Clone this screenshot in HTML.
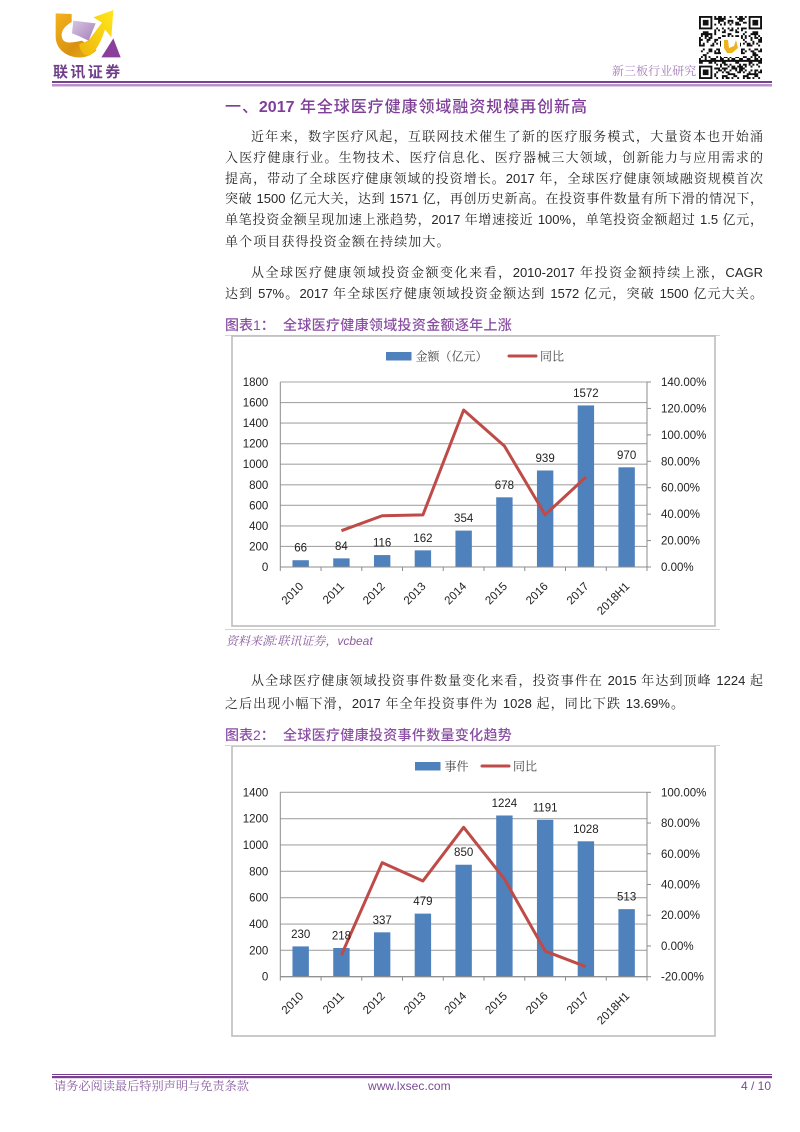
<!DOCTYPE html>
<html lang="zh-CN">
<head>
<meta charset="utf-8">
<title>全球医疗健康领域融资规模</title>
<style>
html,body{margin:0;padding:0;background:#fff;}
#page{position:relative;width:800px;height:1132px;overflow:hidden;background:#fff;font-family:"Liberation Sans","Noto Serif CJK SC",serif;color:#222;}
.ln{position:absolute;left:225px;width:538px;height:20px;line-height:20px;font-size:13px;text-align:justify;text-align-last:justify;color:#262626;}
.ind{left:251px;width:512px;}
.plain{text-align:left;text-align-last:left;letter-spacing:1.1px;}
.h1{position:absolute;left:225px;top:97px;width:362px;height:22px;line-height:22px;font-family:"Liberation Sans","Noto Sans CJK SC",sans-serif;font-weight:500;font-size:16px;color:#7f3f98;text-align:justify;text-align-last:justify;}
.h1 b{font-weight:700;}
.ft{position:absolute;height:18px;line-height:18px;font-family:"Liberation Sans","Noto Sans CJK SC",sans-serif;font-weight:500;font-size:14px;color:#8a4ea3;white-space:nowrap;}
.rule{position:absolute;left:225px;width:495px;height:1px;background:#d4d4d4;}
svg{position:absolute;left:0;top:0;}
svg text{font-family:"Liberation Sans","Noto Sans CJK SC",sans-serif;fill:#222;}
</style>
</head>
<body>
<div id="page">

<svg width="800" height="100">
  <defs>
    <linearGradient id="og" x1="0" y1="0" x2="1" y2="1"><stop offset="0" stop-color="#f6b21e"/><stop offset=".6" stop-color="#d9920f"/><stop offset="1" stop-color="#e8b21a"/></linearGradient>
    <linearGradient id="yg" x1="1" y1="0" x2="0" y2="1"><stop offset="0" stop-color="#ffe81a"/><stop offset="1" stop-color="#efb50c"/></linearGradient>
    <linearGradient id="pg" x1="0" y1="0" x2="1" y2="1"><stop offset="0" stop-color="#d8c6e2"/><stop offset="1" stop-color="#a57fb8"/></linearGradient>
  </defs>
  <g transform="translate(40,0) scale(.3333)">
    <path d="M47 40 L95 42 L95 66 C68 82 60 100 68 118 C76 132 100 128 125 122 L170 150 C150 170 130 174 110 172 C70 168 47 140 47 110 Z" fill="url(#og)"/>
    <path d="M220 30 L214 112 L195 88 C185 120 172 148 150 166 C130 170 118 150 118 132 C135 128 145 122 150 116 L186 68 L160 52 Z" fill="url(#yg)"/>
    <path d="M100 62 L167 70 L146 122 C125 112 108 104 96 100 Z" fill="url(#pg)"/>
    <path d="M220 115 L242 172 L184 172 Z" fill="#8a3f9c"/>
  </g>
  <text x="53" y="77" font-size="15" font-weight="700" letter-spacing="2.4" style="fill:#6f3f8a">联讯证券</text>
  <text x="612" y="75" font-size="12" letter-spacing=".05" style="fill:#a57bbb;font-family:'Noto Serif CJK SC',serif">新三板行业研究</text>
  <g id="qr"></g>
  <rect x="52" y="81" width="720" height="2" fill="#7a3f8f"/>
  <rect x="52" y="84" width="720" height="2.5" fill="#b892cb"/>
</svg>

<div class="h1">一、<b>2017</b> 年全球医疗健康领域融资规模再创新高</div>

<div class="ln ind" style="top:127px">近年来，数字医疗风起，互联网技术催生了新的医疗服务模式，大量资本也开始涌</div>
<div class="ln" style="top:148px">入医疗健康行业。生物技术、医疗信息化、医疗器械三大领域，创新能力与应用需求的</div>
<div class="ln" style="top:169px">提高，带动了全球医疗健康领域的投资增长。2017 年，全球医疗健康领域融资规模首次</div>
<div class="ln" style="top:189px">突破 1500 亿元大关，达到 1571 亿，再创历史新高。在投资事件数量有所下滑的情况下，</div>
<div class="ln" style="top:210px">单笔投资金额呈现加速上涨趋势，2017 年增速接近 100%，单笔投资金额超过 1.5 亿元，</div>
<div class="ln plain" style="top:232px">单个项目获得投资金额在持续加大。</div>
<div class="ln ind" style="top:263px">从全球医疗健康领域投资金额变化来看，2010-2017 年投资金额持续上涨，CAGR</div>
<div class="ln" style="top:284px">达到 57%。2017 年全球医疗健康领域投资金额达到 1572 亿元，突破 1500 亿元大关。</div>

<div class="ft" style="left:225px;top:316px">图表1：</div>
<div class="ft" style="left:283px;top:316px;letter-spacing:.32px">全球医疗健康领域投资金额逐年上涨</div>
<div class="rule" style="top:335px"></div>

<svg id="chart1" width="800" height="1132"></svg>
<svg id="chart2" width="800" height="1132"></svg>

<div class="rule" style="top:629px"></div>
<div style="position:absolute;left:226px;top:632px;height:18px;line-height:18px;font-size:12px;font-style:italic;color:#8a5ca0;white-space:nowrap">资料来源:联讯证券，vcbeat</div>

<div class="ln ind" style="top:671px">从全球医疗健康领域投资事件数量变化来看，投资事件在 2015 年达到顶峰 1224 起</div>
<div class="ln" style="top:694px;width:459px">之后出现小幅下滑，2017 年全年投资事件为 1028 起，同比下跌 13.69%。</div>

<div class="ft" style="left:225px;top:726px">图表2：</div>
<div class="ft" style="left:283px;top:726px;letter-spacing:.32px">全球医疗健康投资事件数量变化趋势</div>
<div class="rule" style="top:745px"></div>

<svg width="800" height="1132">
  <rect x="52" y="1074" width="720" height="1" fill="#7a3f8f"/>
  <rect x="52" y="1076" width="720" height="2.2" fill="#7a3f8f"/>
  <text x="54" y="1090" font-size="12.2" style="fill:#8a5ca0;font-family:'Noto Serif CJK SC',serif">请务必阅读最后特别声明与免责条款</text>
  <text x="368" y="1090" font-size="12" letter-spacing=".05" style="fill:#7a4a96">www.lxsec.com</text>
  <text x="771" y="1090" font-size="12" text-anchor="end" style="fill:#7a4a96">4 / 10</text>
</svg>
</div>

<script>
// Chart 1 data
const categories1 = ['2010','2011','2012','2013','2014','2015','2016','2017','2018H1'];
const amountValues = [66,84,116,162,354,678,939,1572,970];
const amountGrowth = [null,27.5,38.8,39.4,118.8,91.6,39.5,68,null];
const amountLeftTicks = [0,200,400,600,800,1000,1200,1400,1600,1800];
const amountRightTicks = [0,20,40,60,80,100,120,140];

// Chart 2 data
const categories2 = ['2010','2011','2012','2013','2014','2015','2016','2017','2018H1'];
const eventValues = [230,218,337,479,850,1224,1191,1028,513];
const eventGrowth = [null,-5.9,54.2,42.3,77.2,43.6,-3.3,-13.5,null];
const eventLeftTicks = [0,200,400,600,800,1000,1200,1400];
const eventRightTicks = [-20,0,20,40,60,80,100];

const NS = 'http://www.w3.org/2000/svg';
function mk(parent, tag, attrs, txt) {
  const el = document.createElementNS(NS, tag);
  for (const k in attrs) el.setAttribute(k, attrs[k]);
  if (txt !== undefined) el.textContent = txt;
  parent.appendChild(el);
  return el;
}

function drawChart(svg, cfg) {
  const g = cfg.geom;
  const leftMin = cfg.leftTicks[0], leftMax = cfg.leftTicks[cfg.leftTicks.length - 1];
  const rightMin = cfg.rightTicks[0], rightMax = cfg.rightTicks[cfg.rightTicks.length - 1];
  const yLeft = v => g.bottom - (v - leftMin) / (leftMax - leftMin) * (g.bottom - g.top);
  const yRight = v => g.bottom - (v - rightMin) / (rightMax - rightMin) * (g.bottom - g.top);
  const step = (g.right - g.left) / cfg.categories.length;
  const xCenter = i => g.left + step * (i + .5);
  let el;

  el = mk(svg, 'rect', {x:g.fx, y:g.fy, width:g.fw, height:g.fh, fill:'#fff', stroke:'#bdbdbd', 'stroke-width':1.6});
  
  

  cfg.leftTicks.forEach(t => {
    const y = yLeft(t);
    el = mk(svg, 'line', {x1:g.left, x2:g.right, y1:y, y2:y, stroke:'#a6a6a6', 'stroke-width':1.1});
    
    
    el = mk(svg, 'text', {x:g.left - 12, y:y + 4, 'font-size':11.5, 'text-anchor':'end'}, String(t));
    
    
  });

  cfg.rightTicks.forEach(t => {
    const y = yRight(t);
    el = mk(svg, 'line', {x1:g.right, x2:g.right + 4, y1:y, y2:y, stroke:'#8c8c8c', 'stroke-width':1});
    
    
    el = mk(svg, 'text', {x:g.right + 14, y:y + 4, 'font-size':11.5}, t.toFixed(2) + '%');
    
    
  });

  el = mk(svg, 'line', {x1:g.left, x2:g.left, y1:g.top, y2:g.bottom, stroke:'#8c8c8c', 'stroke-width':1});
  
  
  el = mk(svg, 'line', {x1:g.right, x2:g.right, y1:g.top, y2:g.bottom, stroke:'#8c8c8c', 'stroke-width':1});
  
  

  cfg.values.forEach((v, i) => {
    const y = yLeft(v);
    el = mk(svg, 'rect', {x:xCenter(i) - 8.2, y:y, width:16.4, height:g.bottom - y, fill:'#4f81bd'});
    
    
  });

  el = mk(svg, 'line', {x1:g.left, x2:g.right, y1:g.bottom, y2:g.bottom, stroke:'#8c8c8c', 'stroke-width':1.1});
  
  

  for (let i = 0; i <= cfg.categories.length; i++) {
    const x = g.left + step * i;
    el = mk(svg, 'line', {x1:x, x2:x, y1:g.bottom, y2:g.bottom + 4, stroke:'#8c8c8c', 'stroke-width':1});
    
    
  }

  const pts = [];
  cfg.growth.forEach((v, i) => { if (v !== null) pts.push(xCenter(i) + ',' + yRight(v)); });
  el = mk(svg, 'polyline', {points:pts.join(' '), fill:'none', stroke:'#be4b48', 'stroke-width':3, 'stroke-linejoin':'round'});
  
  

  cfg.values.forEach((v, i) => {
    el = mk(svg, 'text', {x:xCenter(i), y:yLeft(v) - 8.5, 'font-size':11.5, 'text-anchor':'middle'}, String(v));
    
    
  });

  cfg.categories.forEach((c, i) => {
    const x = xCenter(i) + 3.5, y = g.bottom + 20;
    el = mk(svg, 'text', {x:x, y:y, 'font-size':11.5, 'text-anchor':'end', transform:'rotate(-45 ' + x + ' ' + y + ')'}, c);
    
    
  });

  const L = cfg.legend;
  const legendFont = "fill:#444;font-family:'Noto Serif CJK SC',serif";
  el = mk(svg, 'rect', {x:L.x, y:L.y - 4, width:25.5, height:8.5, fill:'#4f81bd'});
  
  
  el = mk(svg, 'text', {x:L.x + 29.5, y:L.y + 4.5, 'font-size':12, style:legendFont}, L.barLabel);
  
  
  el = mk(svg, 'line', {x1:L.lineX, x2:L.lineX + 27, y1:L.y, y2:L.y, stroke:'#be4b48', 'stroke-width':3, 'stroke-linecap':'round'});
  
  
  el = mk(svg, 'text', {x:L.lineX + 31, y:L.y + 4.5, 'font-size':12, style:legendFont}, '同比');
  
  
}

drawChart(document.getElementById('chart1'), {
  categories: categories1, values: amountValues, growth: amountGrowth,
  leftTicks: amountLeftTicks, rightTicks: amountRightTicks,
  geom: {left:280.3, right:647, top:382, bottom:567, fx:232, fy:336, fw:483, fh:290},
  legend: {x:386, y:356, lineX:509, barLabel:'金额（亿元）'}
});
drawChart(document.getElementById('chart2'), {
  categories: categories2, values: eventValues, growth: eventGrowth,
  leftTicks: eventLeftTicks, rightTicks: eventRightTicks,
  geom: {left:280.3, right:647, top:792.3, bottom:976.7, fx:232, fy:746, fw:483, fh:290},
  legend: {x:415, y:766, lineX:482, barLabel:'事件'}
});

// Decorative QR code pattern (not chart data)
(function () {
  const qr = document.getElementById('qr');
  const n = 33, ox = 699, oy = 16, m = 63 / n;
  const finder = (r, c) => {
    for (const [fr, fc] of [[0,0],[0,n-7],[n-7,0]]) {
      const a = r - fr, b = c - fc;
      if (a >= 0 && a < 7 && b >= 0 && b < 7) {
        return (a === 0 || a === 6 || b === 0 || b === 6 || (a >= 2 && a <= 4 && b >= 2 && b <= 4)) ? 1 : 0;
      }
      if (a >= -1 && a <= 7 && b >= -1 && b <= 7) return 0;
    }
    return -1;
  };
  let d = '';
  for (let r = 0; r < n; r++) for (let c = 0; c < n; c++) {
    let v = finder(r, c);
    if (v < 0) v = ((r * 7 + c * 13 + r * c * 3 + (r ^ c) * 5) % 11) < 5 ? 1 : 0;
    if (v) d += 'M' + (ox + c * m) + ' ' + (oy + r * m) + 'h' + m + 'v' + m + 'h-' + m + 'z';
  }
  let el = mk(qr, 'path', {d:d, fill:'#111'});
  
  
  el = mk(qr, 'rect', {x:721, y:37, width:19, height:20, fill:'#fff'});
  
  
  el = mk(qr, 'path', {d:'M724 40h4l1 8 5-2 2-6 2 8-6 5h-5l-3-5z', fill:'#eeb21c'});
  
  
})();
</script>
</body>
</html>
